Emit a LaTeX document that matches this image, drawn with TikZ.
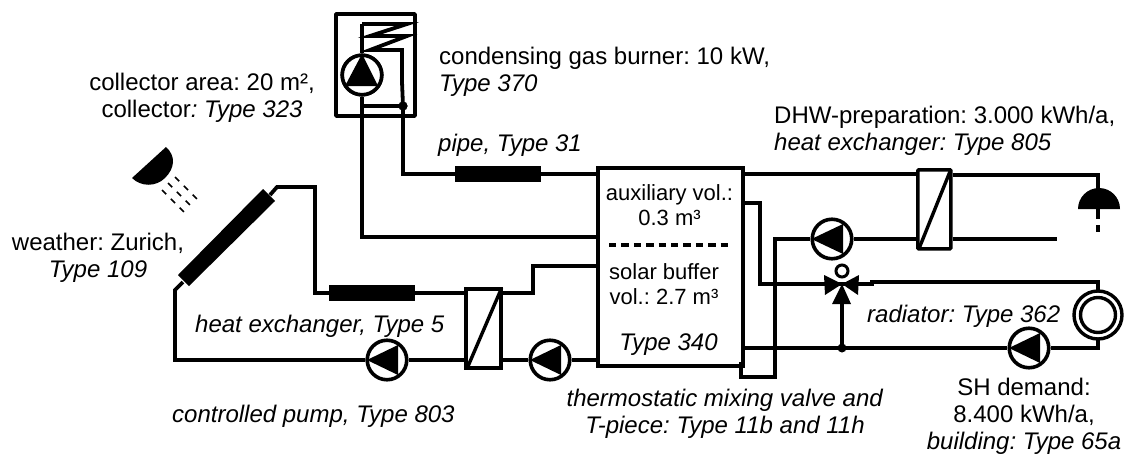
\documentclass[tikz,border=0pt]{standalone}
\usepackage{fontspec}
\usetikzlibrary{calc}
\setmainfont{Liberation Sans}
\frenchspacing
\tikzset{
  pipeline/.style={draw=black,line width=3.8pt,line join=miter},
  thickpipe/.style={fill=black,draw=none,minimum width=86pt,minimum height=16pt,inner sep=0pt},
  pumpc/.style={circle,draw=black,line width=3.6pt,fill=white,minimum size=39.5pt,inner sep=0pt},
  hxbox/.style={draw=black,line width=3.6pt,fill=white,inner sep=0pt},
  lab/.style={font=\fontsize{24pt}{26.5pt}\selectfont,inner sep=0pt,text=black},
  tanklab/.style={font=\fontsize{22pt}{25pt}\selectfont,inner sep=0pt,text=black,align=center},
  dotj/.style={circle,fill=black,minimum size=9pt,inner sep=0pt},
}
\begin{document}
\begin{tikzpicture}[x=1pt,y=-1pt]
\useasboundingbox (0,0) rectangle (1129,455);
% coordinates
\coordinate (bl) at (336,14); \coordinate (br) at (415,116);
\node[pumpc] (bp) at (362,75) {};
\node[dotj] (bj) at (403,106) {};
\coordinate (btop) at (362,24);
\coordinate (bfar) at (362,237);
\coordinate (pipeturn) at (403,174);
\coordinate (pipetank) at (596,174);
\coordinate (farTank) at (596,237);
% storage
\node[draw=black,line width=3.6pt,minimum width=145pt,minimum height=198pt,inner sep=0pt,anchor=north west] (tank) at (596,166) {};
% burner
\draw[line width=3.8pt,line join=round] (bl) rectangle (br);
\draw[pipeline] (btop) -- (bp.north);
\draw[line width=3.8pt,line join=miter] (btop) -- (407,24) -- (370,36) -- (407,36) -- (370,50) -- (402,50) -- (402,82) -- (bj.center);
\draw[pipeline] (bj.center) -- (pipeturn) -- (pipetank);
\draw[pipeline] (bp.south) -- (bfar) -- (farTank);
\draw[pipeline] (bp.south |- bj) -- (bj.center);
\node[pumpc] at (bp) {};
\fill (362,54) -- (378,86) -- (345,86) -- cycle;
\node[dotj] at (bj) {};
\node[thickpipe] (p1) at (498,174) {};
% collector loop
\coordinate (c1) at (270,195); \coordinate (c2) at (277,187); \coordinate (c3) at (315,187); \coordinate (c4) at (315,293);
\coordinate (c0) at (175,290); \coordinate (c0b) at (175,360); \coordinate (c9) at (183,282);
\node[hxbox,minimum width=35pt,minimum height=79pt,anchor=north west] (hx1) at (464,287) {};
\draw[line width=3.4pt] ($(hx1.north east)+(-1,1)$) -- ($(hx1.south west)+(3,-1)$);
\node[pumpc] (pump1) at (387,360) {};
\node[pumpc] (pump2) at (550,360) {};
\draw[pipeline] (c1) -- (c2) -- (c3) -- (c4) -- (hx1.west |- c4);
\draw[pipeline] (c9) -- (c0) -- (c0b) -- (pump1.west);
\draw[pipeline] (pump1.east) -- (hx1.west |- pump1);
\draw[pipeline] (hx1.east |- pump2) -- (pump2.west);
\draw[pipeline] (pump2.east) -- (tank.west |- pump2);
\coordinate (s1) at (533,293); \coordinate (s2) at (533,266);
\draw[pipeline] (hx1.east |- c4) -- (s1) -- (s2) -- (tank.west |- s2);
\node[thickpipe] (p2) at (372,293) {};
\fill (263,189) -- (275,201) -- (189,286) -- (178,275) -- cycle;
\fill (367,360) -- (398,345) -- (398,375) -- cycle;
\fill (530,360) -- (561,345) -- (561,375) -- cycle;
% lamp
\fill (166,147) -- (132,178) .. controls (141,187) and (156,187) .. (165,178) .. controls (175,168) and (176,156) .. (166,147) -- cycle;
\foreach \a/\b/\c/\d in {175/177/200/202,168/183/193/208,162/190/187/215}
  \draw[line width=1.5pt,dash pattern=on 6pt off 6.5pt] (\a,\b) -- (\c,\d);
% DHW
\node[hxbox,minimum width=33pt,minimum height=79pt,anchor=north west,rounded corners=1pt] (hx2) at (916,168) {};
\draw[line width=3.4pt] ($(hx2.north east)+(-2,2)$) -- ($(hx2.south west)+(3,-2)$);
\coordinate (d0) at (741,174); \coordinate (d1) at (1098,175); \coordinate (d2) at (1098,190);
\draw[pipeline] (d0) -- (hx2.west |- d0);
\draw[pipeline] (hx2.east |- d1) -- (d1) -- (d2);
\fill (1078,209) arc[start angle=180,end angle=0,radius=21pt] -- cycle;
\coordinate (sh1) at (1098,209); \coordinate (sh2) at (1098,219); \coordinate (sh3) at (1098,225); \coordinate (sh4) at (1098,232);
\draw[line width=4.5pt] (sh1) -- (sh2) (sh3) -- (sh4);
\node[pumpc] (pump3) at (832,239) {};
\coordinate (dhwend) at (1057,239);
\draw[pipeline] (pump3.east) -- (hx2.west |- pump3);
\draw[pipeline] (hx2.east |- pump3) -- (dhwend);
\coordinate (r1) at (775,239); \coordinate (r2) at (775,377); \coordinate (r3) at (741,377); \coordinate (r4) at (741,362);
\draw[pipeline] (pump3.west) -- (r1) -- (r2) -- (r3) -- (r4);
\fill (811.5,239) -- (843,224) -- (843,254) -- cycle;
% valve and radiator
\coordinate (v) at (842,284);
\coordinate (a1) at (760,203); \coordinate (a2) at (760,284);
\draw[pipeline] (tank.east |- a1) -- (a1) -- (a2) -- (v);
\coordinate (h0) at (872,284); \coordinate (h1) at (872,282); \coordinate (h2) at (1098,282); \coordinate (h3) at (1098,348);
\node[pumpc] (pump4) at (1029,348) {};
\draw[pipeline] (v) -- (h0) -- (h1) -- (h2) -- (h3) -- (pump4.east);
\draw[pipeline] (pump4.west) -- (tank.east |- pump4);
\fill (1009,348) -- (1040,333) -- (1040,363) -- cycle;
\node[circle,draw=black,fill=white,line width=3.4pt,minimum size=48pt,inner sep=0pt] (radO) at (1098,315) {};
\node[circle,draw=black,line width=3.4pt,minimum size=35pt,inner sep=0pt] (radI) at (1098,315) {};
\fill (v) -- (824,275) -- (825,295) -- cycle;
\fill (v) -- (859,275) -- (858,295) -- cycle;
\fill (v) -- (851,304) -- (832,304) -- cycle;
\node[circle,draw=black,line width=3pt,fill=white,minimum size=12pt,inner sep=0pt] (vc) at (842,271) {};
\node[dotj] (vj) at (842,348) {};
\draw[pipeline] (842,304) -- (vj.center);
% tank divider
\coordinate (dv1) at (609,245); \coordinate (dv2) at (729,245);
\draw[line width=3.8pt,dash pattern=on 7.4pt off 5pt] (dv1) -- (dv2);
% labels
\node[lab,align=center] (t1) at (202,98) {collector area: 20 m²,\\collector\textit{: Type 323}};
\node[lab,align=left,anchor=west] (t2) at (439,72) {condensing gas burner: 10 kW,\\\textit{Type 370}};
\node[lab,anchor=base west] (t3) at (438,151) {\textit{pipe, Type 31}};
\node[lab,align=left,anchor=west] (t4) at (774,131) {DHW-preparation: 3.000 kWh/a,\\\textit{heat exchanger: Type 805}};
\node[lab,align=center] (t5) at (98,258) {weather: Zurich,\\\textit{Type 109}};
\node[lab,anchor=base west] (t6) at (195,332) {\textit{heat exchanger, Type 5}};
\node[lab,anchor=base west] (t7) at (172,422) {\textit{controlled pump, Type 803}};
\node[lab,align=center] (t8) at (725,414) {\textit{thermostatic mixing valve and}\\\textit{T-piece: Type 11b and 11h}};
\node[lab,anchor=base west] (t9) at (867,322) {\textit{radiator: Type 362}};
\node[lab,align=center,font=\fontsize{24pt}{27pt}\selectfont] (t10) at (1024,416.5) {SH demand:\\8.400 kWh/a,\\\textit{building: Type 65a}};
\node[tanklab] (t11) at (669.5,205) {auxiliary vol.:\\0.3 m³};
\node[tanklab] (t12) at (664,284) {solar buffer\\vol.: 2.7 m³};
\node[lab,anchor=base] (t13) at (668.5,350) {\textit{Type 340}};
\end{tikzpicture}
\end{document}
